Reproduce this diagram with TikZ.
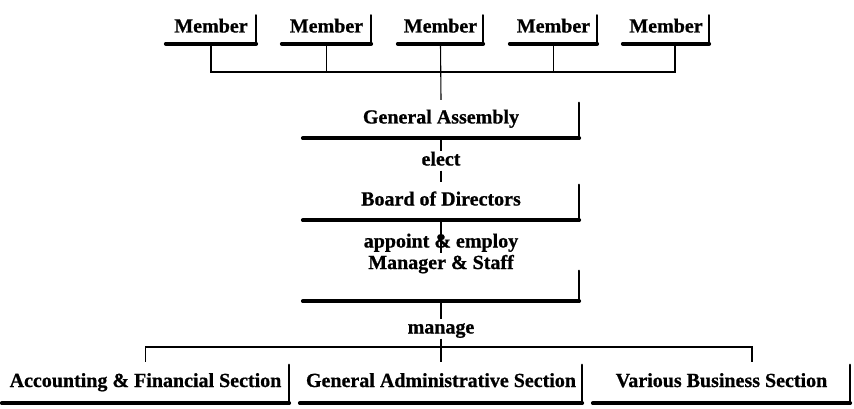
\documentclass[tikz,border=0pt]{standalone}
\usepackage{fontspec}
\setmainfont{Liberation Serif}[BoldFeatures={FakeBold=0.8}]
\newcommand\boxbrk[2][3pt]{%
  \draw[rside] ([yshift=-#1]#2.north east) -- (#2.south east);
  \draw[bline] (#2.south west) -- (#2.south east);}
\begin{document}
\begin{tikzpicture}[x=1pt,y=-1pt,
  txt/.style={font=\fontsize{20}{22}\selectfont\bfseries},
  box/.style={txt, inner sep=0pt, text height=13pt, text depth=4pt},
  lab/.style={txt, inner sep=1pt, text height=13pt, text depth=4pt},
  rside/.style={line width=2.4pt, line cap=round},
  bline/.style={line width=3.8pt, line cap=round},
  conn/.style={line width=1.1pt}]
\useasboundingbox (0,0) rectangle (854,409);
% members
\node[box, minimum width=90, minimum height=31] (m1) at (211,28) {Member};
\node[box, minimum width=89, minimum height=31] (m2) at (326.5,28) {Member};
\node[box, minimum width=85, minimum height=31] (m3) at (440.5,28) {Member};
\node[box, minimum width=87, minimum height=31] (m4) at (553.5,28) {Member};
\node[box, minimum width=86, minimum height=31] (m5) at (666,28) {Member};
\foreach \m in {m1,m2,m3,m4,m5}{\boxbrk{\m}}
% main chain
\node[box, minimum width=276, minimum height=38] (ga) at (441,119) {General Assembly};
\node[box, minimum width=276, minimum height=38] (bd) at (441,201) {Board of Directors};
\node[box, minimum width=276, minimum height=48, text height=16pt, text depth=32pt] (ms) at (441,277) {Manager \& Staff};
\boxbrk{ga}
\boxbrk{bd}
\boxbrk[18pt]{ms}
% sections
\node[box, minimum width=287, minimum height=41] (acc) at (145.5,382.5) {Accounting \& Financial Section};
\node[box, minimum width=282, minimum height=41] (gad) at (441,382.5) {General Administrative Section};
\node[box, minimum width=257, minimum height=41] (vbs) at (721.5,382.5) {Various Business Section};
\foreach \m in {acc,gad,vbs}{\boxbrk{\m}}
% labels
\node[lab] (el) at (441,161) {elect};
\node[lab] (ap) at (441,243) {appoint \& employ};
\node[lab] (mg) at (441,329) {manage};
% member connectors
\coordinate (mbar) at (441,72);
\coordinate (m5d) at (675,43);
\draw[conn] (m1.south) -- (m1.south |- mbar) -- (m5d |- mbar) -- (m5d);
\foreach \m in {m2,m4}{\draw[conn] (\m.south) -- (\m.south |- mbar);}
\draw[conn] (m3.south) -- (ga.north);
% chain connectors
\draw[conn] (ga.south) -- (el.north);
\draw[conn] (el.south) -- (bd.north);
\draw[conn] (bd.south) -- (ms.north);
\draw[conn] (ms.south) -- (mg.north);
% section connectors
\coordinate (sbar) at (441,347);
\coordinate (vbd) at (752,362);
\draw[conn] (mg.south) -- (gad.north);
\draw[conn] (acc.north) -- (acc.north |- sbar) -- (vbd |- sbar) -- (vbd);
\end{tikzpicture}
\end{document}
